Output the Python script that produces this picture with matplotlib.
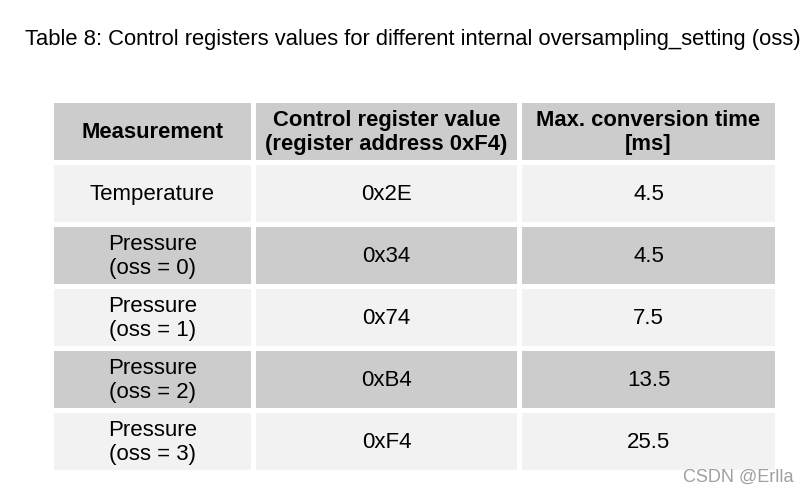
import matplotlib
matplotlib.use("Agg")
import matplotlib.pyplot as plt
from matplotlib.patches import Rectangle

title = "Table 8: Control registers values for different internal oversampling_setting (oss)"
headers = ["Measurement", "Control register value\n(register address 0xF4)", "Max. conversion time\n[ms]"]
measurements = ["Temperature", "Pressure\n(oss = 0)", "Pressure\n(oss = 1)", "Pressure\n(oss = 2)", "Pressure\n(oss = 3)"]
register_values = ["0x2E", "0x34", "0x74", "0xB4", "0xF4"]
conversion_times = ["4.5", "4.5", "7.5", "13.5", "25.5"]
watermark = "CSDN @Erlla"

W, H = 809, 493
fig = plt.figure(figsize=(W / 100, H / 100), dpi=100)
ax = fig.add_axes([0, 0, 1, 1])
ax.set_xlim(0, W)
ax.set_ylim(H, 0)
ax.axis("off")

FONT = ["Liberation Sans", "DejaVu Sans"]

col_edges = [(54, 251), (256, 517), (522, 775)]
row_top = 103
row_h = 57
gap = 5
header_color = "#cccccc"
light = "#f2f2f2"
dark = "#cccccc"

ax.text(25, 40, title, fontsize=15.8, family=FONT, ha="left", va="center", color="#000000")

rows = [headers] + [list(r) for r in zip(measurements, register_values, conversion_times)]
for i, row in enumerate(rows):
    y0 = row_top + i * (row_h + gap)
    if i == 0:
        fc = header_color
    else:
        fc = light if i % 2 == 1 else dark
    for j, (x0, x1) in enumerate(col_edges):
        ax.add_patch(Rectangle((x0, y0), x1 - x0, row_h, facecolor=fc, edgecolor="none"))
        ax.text((x0 + x1) / 2, y0 + row_h / 2 + 1, row[j], fontsize=15.8 if i == 0 else 16,
                family=FONT, fontweight="bold" if i == 0 else "normal",
                ha="center", va="center", color="#000000", linespacing=1.15)

ax.text(794, 477, watermark, fontsize=13, family=FONT, ha="right", va="center", color="#a0a0a0")

fig.savefig("out.png", dpi=100)
